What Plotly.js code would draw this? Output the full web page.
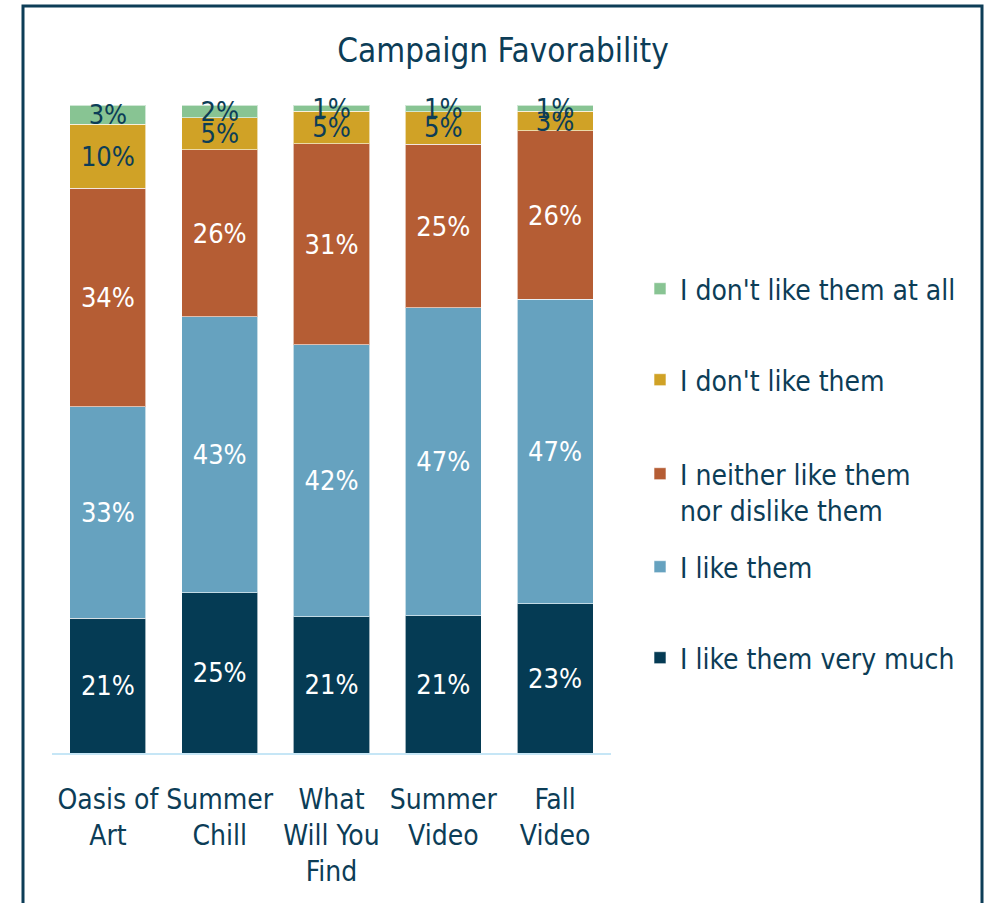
<!DOCTYPE html>
<html>
<head>
<meta charset="utf-8">
<script src="https://cdn.plot.ly/plotly-3.0.1.min.js"></script>
<style>html,body{margin:0;padding:0;background:#fff;}#chart{width:990px;height:903px;}</style>
</head>
<body>
<div id="chart"></div>
<script>
var categories = ["Oasis of<br>Art", "Summer<br>Chill", "What<br>Will You<br>Find", "Summer<br>Video", "Fall<br>Video"];
var seriesNames = ["I like them very much", "I like them", "I neither like them<br>nor dislike them", "I don't like them", "I don't like them at all"];
var veryMuch   = [21, 25, 21, 21, 23];
var likeThem   = [33, 43, 42, 47, 47];
var neither    = [34, 26, 31, 25, 26];
var dontLike   = [10, 5, 5, 5, 3];
var dontAtAll  = [3, 2, 1, 1, 1];
var seriesValues = [veryMuch, likeThem, neither, dontLike, dontAtAll];
var colors = ["#053b54", "#66a2bf", "#b55d34", "#d0a226", "#88c493"];
var textColors = ["#ffffff", "#ffffff", "#ffffff", "#0c3d57", "#0c3d57"];
var legendY = [658, 567, 492, 380, 289];

var FONT = "'DejaVu Sans Condensed', 'Liberation Sans Narrow', sans-serif";
var TXT = "#0c3d57";

var traces = seriesValues.map(function(vals, i) {
  return {
    type: "bar",
    name: seriesNames[i],
    x: categories,
    y: vals,
    text: vals.map(function(v){ return v + "%"; }),
    textposition: "inside",
    insidetextanchor: "middle",
    constraintext: "none",
    textangle: 0,
    cliponaxis: false,
    textfont: {family: FONT, size: 27, color: textColors[i]},
    marker: {color: colors[i], line: {color: "rgba(255,255,255,0.6)", width: 1}},
    hoverinfo: "none",
    legend: i === 0 ? "legend" : "legend" + (i + 1)
  };
});

var layout = {
  width: 990, height: 903,
  margin: {l: 52, r: 379, t: 105, b: 150, pad: 0},
  paper_bgcolor: "#ffffff", plot_bgcolor: "#ffffff",
  barmode: "stack", barnorm: "percent", bargap: 0.32,
  font: {family: FONT, color: TXT, size: 28},
  showlegend: true,
  title: {text: "Campaign Favorability", font: {family: FONT, size: 33, color: TXT},
          x: 503/990, xanchor: "center", xref: "container", y: 1 - 50/903, yanchor: "middle", yref: "container"},
  xaxis: {showline: true, linecolor: "#c6e6f6", linewidth: 2, showgrid: false, zeroline: false,
          ticks: "", tickangle: 0, automargin: false, ticklabelstandoff: 20,
          tickfont: {family: FONT, size: 28, color: TXT}, fixedrange: true},
  yaxis: {range: [0, 100], visible: false, showgrid: false, zeroline: false, fixedrange: true},
  shapes: [{type: "rect", xref: "paper", yref: "paper",
            x0: (23-52)/559, x1: (982-52)/559, y0: (753-915)/648, y1: (753-6)/648,
            line: {color: "#0d3d57", width: 3}, fillcolor: "rgba(0,0,0,0)", layer: "below"}]
};
for (var i = 0; i < 5; i++) {
  var key = i === 0 ? "legend" : "legend" + (i + 1);
  layout[key] = {x: 640/990, xanchor: "left", xref: "container", y: 1 - legendY[i]/903, yanchor: "middle", yref: "container",
                 bgcolor: "rgba(0,0,0,0)", borderwidth: 0, valign: "top",
                 font: {family: FONT, size: 28, color: TXT}};
}
Plotly.newPlot("chart", traces, layout, {displayModeBar: false, staticPlot: true});
</script>
</body>
</html>
